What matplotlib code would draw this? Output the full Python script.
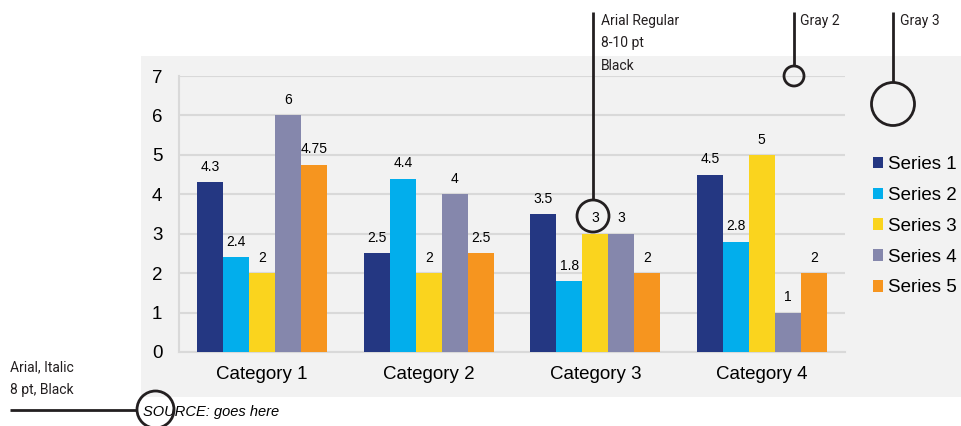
import matplotlib
matplotlib.use("Agg")
import matplotlib.pyplot as plt
import matplotlib.transforms as mtransforms
from matplotlib.patches import Rectangle, Circle, Patch
from matplotlib.lines import Line2D
import numpy as np

# ---- data ----
categories = ["Category 1", "Category 2", "Category 3", "Category 4"]
series_names = ["Series 1", "Series 2", "Series 3", "Series 4", "Series 5"]
series_1 = [4.3, 2.5, 3.5, 4.5]
series_2 = [2.4, 4.4, 1.8, 2.8]
series_3 = [2, 2, 3, 5]
series_4 = [6, 4, 3, 1]
series_5 = [4.75, 2.5, 2, 2]
y_ticks = [0, 1, 2, 3, 4, 5, 6, 7]

series_values = [series_1, series_2, series_3, series_4, series_5]
colors = ["#243782", "#02AEEC", "#FAD41E", "#8587AC", "#F6951F"]

W, H, DPI = 961, 426, 100
fig = plt.figure(figsize=(W / DPI, H / DPI), dpi=DPI)
fig.patch.set_facecolor("white")

# pixel coordinates, origin at top-left of the figure
px = mtransforms.Affine2D().scale(1 / DPI, -1 / DPI).translate(0, H / DPI) + fig.dpi_scale_trans

PANEL = "#F2F2F2"
GRID = "#D9D9D9"
INK = "#231F20"
FONT = ["Liberation Sans", "DejaVu Sans"]
NOTE_FONT = ["Roboto", "DejaVu Sans"]

# gray chart panel, behind the axes
fig.patches.append(Rectangle((141, 56), W - 141, 397 - 56, transform=px,
                             facecolor=PANEL, edgecolor="none", zorder=-5))

ax_l, ax_r, ax_t, ax_b = 179, 845, 76, 352
ax = fig.add_axes([ax_l / W, 1 - ax_b / H, (ax_r - ax_l) / W, (ax_b - ax_t) / H])
ax.set_facecolor(PANEL)
ax.set_zorder(1)

x = np.arange(len(categories))
bar_w = 0.156
n = len(series_values)
for i, (vals, col, name) in enumerate(zip(series_values, colors, series_names)):
    pos = x + (i - (n - 1) / 2) * bar_w
    ax.bar(pos, vals, width=bar_w, color=col, label=name, zorder=3,
           edgecolor="none")
    for xp, v in zip(pos, vals):
        ax.annotate(f"{v:g}", (xp, v), xytext=(0, 6), textcoords="offset points",
                    ha="center", va="bottom", fontsize=10, family=FONT,
                    color="black", zorder=4)

ax.set_xlim(-0.5, len(categories) - 0.5)
ax.set_ylim(0, 7)
ax.set_yticks(y_ticks)
ax.set_yticklabels([str(t) for t in y_ticks], family=FONT, fontsize=13.5)
ax.set_xticks(x)
ax.set_xticklabels(categories, family=FONT, fontsize=13.5)
ax.tick_params(axis="both", length=0, colors="black")
ax.tick_params(axis="y", pad=12)
ax.tick_params(axis="x", pad=10)
ax.yaxis.grid(True, color=GRID, linewidth=1.5, zorder=1)
ax.set_axisbelow(True)
for s in ["top", "right"]:
    ax.spines[s].set_visible(False)
for s in ["left", "bottom"]:
    ax.spines[s].set_color(GRID)
    ax.spines[s].set_linewidth(1.5)

handles = [Patch(facecolor=c, edgecolor="none") for c in colors]
leg = fig.legend(handles, series_names, loc="upper left",
                 bbox_to_anchor=(873 / W, 1 - 156 / H), frameon=False,
                 prop={"family": FONT, "size": 13.5},
                 handlelength=0.55, handleheight=0.55, handletextpad=0.25,
                 labelspacing=0.74, borderaxespad=0, borderpad=0)
leg.set_zorder(5)

# ---- style notes ----
lw = 2.0
def note_line(x0, y0, x1, y1):
    fig.lines.append(Line2D([x0, x1], [y0, y1], transform=px, color=INK,
                            linewidth=lw, solid_capstyle="butt", zorder=10))

def note_circle(cx, cy, r):
    fig.patches.append(Circle((cx, cy), r, transform=px, facecolor="none",
                              edgecolor=INK, linewidth=lw, zorder=10))

# data label font note
note_line(593, 12, 593, 200)
note_circle(593, 216, 16)
fig.text(601 / W, 1 - 14 / H, "Arial Regular\n8-10 pt\nBlack", ha="left", va="top",
         family=NOTE_FONT, fontsize=10, color=INK, linespacing=1.75)

# gray swatches
note_line(794, 12, 794, 66)
note_circle(794, 76, 10)
fig.text(800 / W, 1 - 14 / H, "Gray 2", ha="left", va="top",
         family=NOTE_FONT, fontsize=10, color=INK)

note_line(893, 12, 893, 82)
note_circle(893, 104, 21.5)
fig.text(900 / W, 1 - 14 / H, "Gray 3", ha="left", va="top",
         family=NOTE_FONT, fontsize=10, color=INK)

# source note
note_line(10, 410, 137, 410)
note_circle(155.5, 409.5, 18.5)
fig.text(10 / W, 1 - 360 / H, "Arial, Italic\n8 pt, Black", ha="left", va="top",
         family=NOTE_FONT, fontsize=10, color=INK, linespacing=1.8)

fig.text(143 / W, 1 - 412 / H, "SOURCE: goes here", ha="left", va="center",
         family=FONT, style="italic", fontsize=10.5, color="black", zorder=5)

fig.savefig("out.png", dpi=DPI, facecolor="white")
